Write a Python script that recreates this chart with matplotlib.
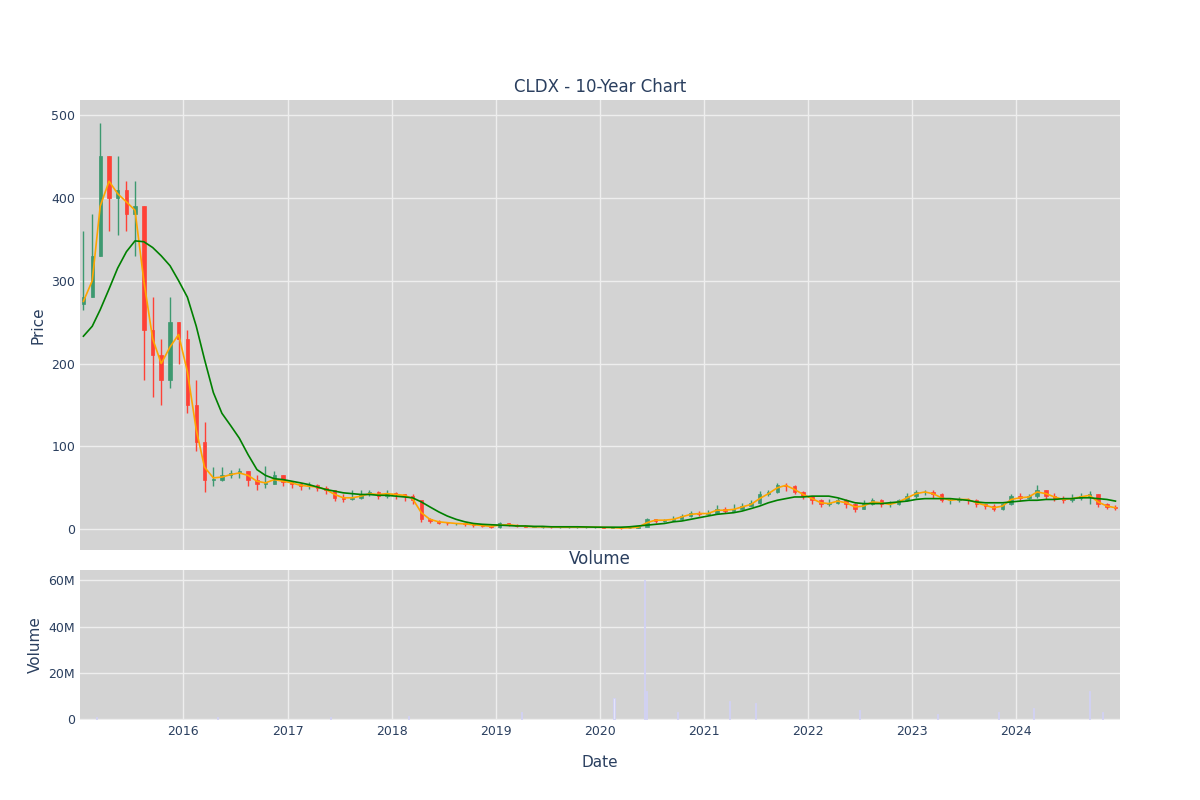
import matplotlib
matplotlib.use("Agg")
import matplotlib.pyplot as plt
import matplotlib.dates as mdates
import pandas as pd
import numpy as np

months = pd.date_range("2015-01-01", periods=120, freq="MS") + pd.Timedelta(days=14)
closes = [280,330,450,400,410,380,390,240,210,180,250,230,
          150,105,60,60,65,68,70,60,55,55,65,57,
          55,52,53,50,47,38,37,38,42,45,40,44,
          42,40,35,12,10,8,7,7,6,5,4,3,
          7,5,4,3,3,3,2.5,2.5,2.5,2.5,2.5,2.5,
          2,2,1,2,3,12,10,11,13,16,20,18,
          20,25,22,25,28,32,42,45,53,52,45,40,
          35,30,32,35,30,25,30,35,30,30,35,40,
          45,45,42,35,35,37,35,30,28,25,30,40,
          38,40,48,40,38,35,38,40,42,30,27,26]
highs = [360,380,490,450,450,420,420,390,280,230,280,250,
         240,180,130,75,75,72,74,70,65,76,70,65,
         58,56,57,55,52,48,42,47,48,48,46,47,
         45,43,42,35,14,11,9,8,7,7,6,5,
         9,8,6,5,4,4,3.5,3.5,3,3,3,3,
         3,3,2.5,3,4,14,13,13,16,18,22,22,
         23,29,27,30,32,35,46,48,56,56,53,46,
         40,36,36,38,36,32,35,38,36,34,37,44,
         48,48,47,44,38,39,38,36,31,30,32,42,
         44,42,53,48,44,40,42,44,46,43,32,29]
lows = [265,280,330,360,355,360,330,180,160,150,170,200,
        140,95,45,52,58,62,62,52,48,50,55,52,
        50,48,49,46,42,34,33,35,37,40,36,38,
        36,34,30,9,8,6,5,5,4,3,2.5,2,
        2,4,3,2.5,2.5,2,2,2,2,2,1.5,1.5,
        1.5,1,0.5,1,2,4,8,9,10,12,15,16,
        17,19,20,21,25,28,31,40,44,46,42,37,
        30,27,28,30,26,21,24,29,27,27,29,34,
        38,41,38,33,31,33,31,27,25,22,23,29,
        34,36,38,37,34,32,33,35,30,27,24,23]
ma_short = [275,300,390,420,405,395,385,300,230,200,220,235,
            190,120,75,62,63,66,68,65,58,56,60,58,
            56,53,52,51,48,42,38,38,40,43,42,43,
            42,41,37,20,12,9,8,7,6.5,5.5,4.5,3.5,
            5,5.5,4.5,3.5,3,3,2.8,2.5,2.5,2.5,2.5,2.5,
            2.2,2,1.5,1.8,2.5,8,11,11,12,15,18,19,
            19,23,23,24,27,30,37,43,50,53,48,42,
            37,32,31,34,32,27,28,33,32,30,33,38,
            43,45,43,38,35,36,36,32,29,26,28,36,
            38,39,45,43,39,36,37,39,41,33,28,26]
ma_long = [233,245,265,290,315,335,348,347,340,330,318,300,
           280,245,205,165,140,125,110,90,72,65,61,60,
           58,56,54,51,48,46,44,43,42,42,41,41,
           40,39,38,33,27,21,16,12,9,7,6,5.5,
           5,4.5,4,4,3.5,3.5,3,3,3,3,2.8,2.6,
           2.5,2.5,2.5,3,4,5,6,7,9,10,12,14,
           16,18,19,20,22,25,28,32,35,37,39,39,
           40,40,40,38,35,32,31,31,31,32,33,34,
           36,37,37,37,37,36,35,33,32,32,32,33,
           34,35,35,36,36,37,37,38,38,37,36,34]
vol_dates = ["2015-03-01","2016-05-01","2017-06-01","2018-03-01","2019-04-01","2020-02-20","2020-06-05","2020-06-12",
             "2020-10-01","2021-04-01","2021-07-01","2022-07-01","2023-04-01","2023-11-01","2024-03-01","2024-09-15","2024-11-01"]
vol_vals = [1.0,0.8,0.7,1.2,3.0,9.0,60.0,12.0,3.0,8.0,7.0,4.0,2.0,3.0,5.0,12.0,3.0]

fg = "#2a3f5f"
fig = plt.figure(figsize=(12, 8), dpi=100)
ax = fig.add_axes([80/1200, 1-550/800, 1040/1200, 450/800])
axv = fig.add_axes([80/1200, 1-720/800, 1040/1200, 150/800], sharex=ax)
for a in (ax, axv):
    a.set_facecolor("#d3d3d3")
    a.grid(True, color="#eeeeee", linewidth=1)
    a.set_axisbelow(True)
    for s in a.spines.values():
        s.set_visible(False)
    a.tick_params(colors=fg, labelsize=9, length=0)

opens = [closes[0] * 0.97] + closes[:-1]
w = 12
for d, o, h, l, c in zip(months, opens, highs, lows, closes):
    col = "#3D9970" if c >= o else "#FF4136"
    ax.vlines(d, l, h, color=col, linewidth=1)
    ax.bar(d, abs(c - o) or 0.5, bottom=min(o, c), width=w, color=col, edgecolor=col, linewidth=0.5)
ax.plot(months, ma_short, color="orange", linewidth=1.2)
ax.plot(months, ma_long, color="green", linewidth=1.2)
ax.set_ylim(-25, 518)
ax.set_yticks([0, 100, 200, 300, 400, 500])
ax.set_ylabel("Price", color=fg, fontsize=11)
ax.set_title("CLDX - 10-Year Chart", color=fg, fontsize=12)
plt.setp(ax.get_xticklabels(), visible=False)

axv.bar(pd.to_datetime(vol_dates), vol_vals, width=4, color="#e4e4fa", edgecolor="#d0d0f4", linewidth=0.6)
axv.set_ylim(-0.4, 64.5)
axv.set_yticks([0, 20, 40, 60])
axv.set_yticklabels(["0", "20M", "40M", "60M"])
axv.set_ylabel("Volume", color=fg, fontsize=11)
axv.set_xlabel("Date", color=fg, fontsize=11, labelpad=12)
axv.set_title("Volume", color=fg, fontsize=12, pad=4)
axv.set_xlim(pd.Timestamp("2015-01-03"), pd.Timestamp("2024-12-31"))
axv.xaxis.set_major_locator(mdates.YearLocator())
axv.xaxis.set_major_formatter(mdates.DateFormatter("%Y"))
fig.savefig("out.png", dpi=100)
